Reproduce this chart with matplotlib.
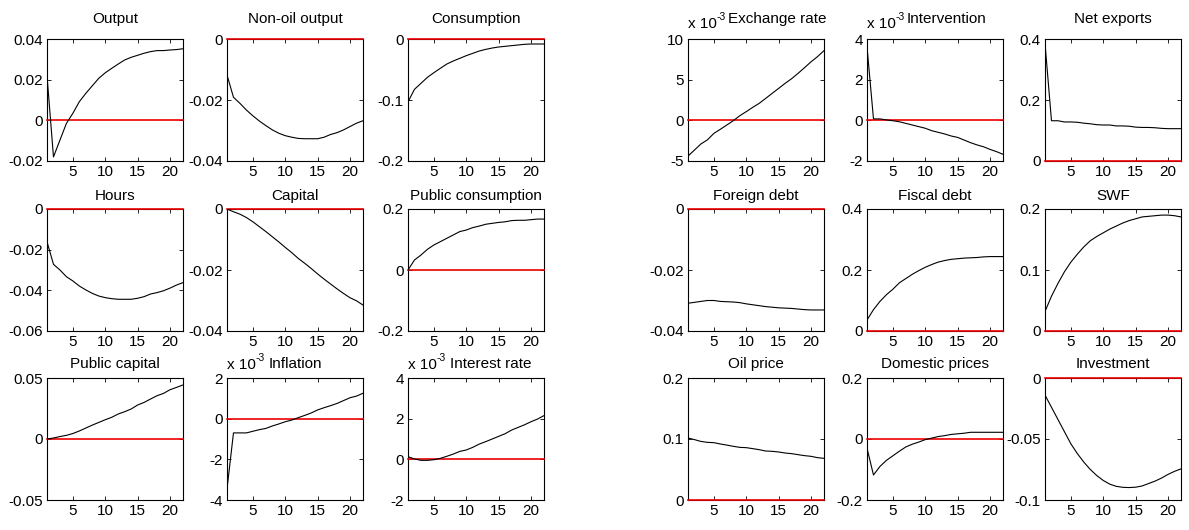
import matplotlib
matplotlib.use("Agg")
import matplotlib.pyplot as plt
from matplotlib.ticker import FuncFormatter
from matplotlib.transforms import offset_copy

plt.rcParams['font.family'] = ['Liberation Sans', 'DejaVu Sans']
plt.rcParams['axes.unicode_minus'] = False

# ---------------- data ----------------
periods = list(range(1, 23))
x_ticks = [5, 10, 15, 20]

titles = ["Output", "Non-oil output", "Consumption",
          "Hours", "Capital", "Public consumption",
          "Public capital", "Inflation", "Interest rate",
          "Exchange rate", "Intervention", "Net exports",
          "Foreign debt", "Fiscal debt", "SWF",
          "Oil price", "Domestic prices", "Investment"]

# series scaled by 1e-3 shown with "x 10^-3" label
scaled = ["Inflation", "Interest rate", "Exchange rate", "Intervention"]

output = [0.022, -0.018, -0.0097, -0.0015, 0.0035, 0.0092, 0.0133, 0.017, 0.0207, 0.0234, 0.0256,
          0.0277, 0.0297, 0.031, 0.032, 0.033, 0.0338, 0.0343, 0.0343, 0.0346, 0.0348, 0.0352]
nonoil_output = [-0.0118, -0.0191, -0.0211, -0.0233, -0.0252, -0.0269, -0.0284, -0.0298, -0.0309, -0.0317, -0.0322,
                 -0.0326, -0.0327, -0.0327, -0.0327, -0.0322, -0.0313, -0.0307, -0.0298, -0.0287, -0.0276, -0.0268]
consumption = [-0.103, -0.0825, -0.0727, -0.0628, -0.0552, -0.048, -0.041, -0.036, -0.0317, -0.0273, -0.0235,
               -0.0197, -0.017, -0.0148, -0.0131, -0.012, -0.0109, -0.0098, -0.0087, -0.0082, -0.0082, -0.0082]
hours = [-0.0161, -0.0272, -0.030, -0.0333, -0.0354, -0.0379, -0.0398, -0.0415, -0.0428, -0.0436, -0.0441,
         -0.0444, -0.0444, -0.0444, -0.0439, -0.0431, -0.0418, -0.0411, -0.0402, -0.0389, -0.0374, -0.0362]
capital = [0.0, -0.0009, -0.0017, -0.0028, -0.0042, -0.0058, -0.0074, -0.0091, -0.0108, -0.0126, -0.0143,
           -0.0162, -0.0178, -0.0195, -0.0213, -0.023, -0.0246, -0.0262, -0.0277, -0.0291, -0.0301, -0.0315]
public_consumption = [0.0, 0.0328, 0.049, 0.0678, 0.082, 0.093, 0.104, 0.115, 0.126, 0.131, 0.139,
                      0.144, 0.150, 0.153, 0.156, 0.158, 0.162, 0.163, 0.163, 0.165, 0.167, 0.167]
public_capital = [0.0, 0.0008, 0.002, 0.003, 0.0045, 0.0066, 0.009, 0.0114, 0.0136, 0.0158, 0.0178,
                  0.0205, 0.0224, 0.0246, 0.0279, 0.030, 0.0328, 0.0355, 0.0374, 0.0404, 0.0423, 0.0443]
inflation = [-3.46, -0.70, -0.70, -0.70, -0.62, -0.54, -0.48, -0.36, -0.26, -0.15, -0.07,
             0.05, 0.16, 0.28, 0.43, 0.54, 0.64, 0.75, 0.89, 1.03, 1.11, 1.25]
interest_rate = [0.13, 0.02, -0.05, -0.05, -0.02, 0.05, 0.15, 0.26, 0.39, 0.46, 0.59,
                 0.75, 0.87, 1.0, 1.13, 1.26, 1.44, 1.57, 1.7, 1.85, 1.98, 2.15]
exchange_rate = [-4.4, -3.65, -2.9, -2.4, -1.6, -1.1, -0.57, -0.04, 0.57, 1.07, 1.6,
                 2.09, 2.7, 3.32, 3.93, 4.55, 5.12, 5.78, 6.48, 7.2, 7.83, 8.57]
intervention = [3.62, 0.07, 0.07, 0.02, -0.02, -0.07, -0.15, -0.23, -0.31, -0.39, -0.51,
                -0.59, -0.67, -0.77, -0.84, -0.97, -1.1, -1.21, -1.3, -1.43, -1.54, -1.67]
net_exports = [0.386, 0.132, 0.132, 0.128, 0.128, 0.127, 0.124, 0.122, 0.119, 0.118, 0.118,
               0.115, 0.115, 0.114, 0.111, 0.110, 0.110, 0.109, 0.107, 0.106, 0.106, 0.106]
foreign_debt = [-0.0309, -0.0306, -0.0303, -0.0300, -0.0300, -0.0303, -0.0304, -0.0305, -0.0307, -0.0311, -0.0314,
                -0.0317, -0.032, -0.0322, -0.0324, -0.0325, -0.0326, -0.0328, -0.033, -0.0331, -0.0331, -0.0331]
fiscal_debt = [0.036, 0.07, 0.097, 0.119, 0.137, 0.158, 0.172, 0.186, 0.198, 0.209, 0.218,
               0.226, 0.231, 0.235, 0.237, 0.239, 0.240, 0.241, 0.243, 0.244, 0.244, 0.244]
swf = [0.032, 0.057, 0.078, 0.097, 0.113, 0.126, 0.138, 0.148, 0.155, 0.161, 0.167,
       0.172, 0.177, 0.181, 0.184, 0.187, 0.188, 0.189, 0.190, 0.190, 0.189, 0.187]
oil_price = [0.1016, 0.099, 0.096, 0.0945, 0.094, 0.0918, 0.090, 0.088, 0.0863, 0.0858, 0.0842,
             0.0825, 0.0803, 0.0798, 0.0787, 0.077, 0.0760, 0.0743, 0.0727, 0.0716, 0.0694, 0.0683]
domestic_prices = [-0.03, -0.118, -0.090, -0.07, -0.055, -0.040, -0.026, -0.017, -0.010, -0.002, 0.003,
                   0.008, 0.011, 0.015, 0.017, 0.019, 0.022, 0.022, 0.022, 0.022, 0.022, 0.022]
investment = [-0.014, -0.024, -0.034, -0.044, -0.054, -0.062, -0.069, -0.075, -0.080, -0.084, -0.087,
              -0.0888, -0.0896, -0.0898, -0.0895, -0.0885, -0.0865, -0.0845, -0.082, -0.079, -0.0765, -0.0745]

series = [output, nonoil_output, consumption, hours, capital, public_consumption,
          public_capital, inflation, interest_rate, exchange_rate, intervention, net_exports,
          foreign_debt, fiscal_debt, swf, oil_price, domestic_prices, investment]

y_ticks = [[-0.02, 0, 0.02, 0.04], [-0.04, -0.02, 0], [-0.2, -0.1, 0],
           [-0.06, -0.04, -0.02, 0], [-0.04, -0.02, 0], [-0.2, 0, 0.2],
           [-0.05, 0, 0.05], [-4, -2, 0, 2], [-2, 0, 2, 4],
           [-5, 0, 5, 10], [-2, 0, 2, 4], [0, 0.2, 0.4],
           [-0.04, -0.02, 0], [0, 0.2, 0.4], [0, 0.1, 0.2],
           [0, 0.1, 0.2], [-0.2, 0, 0.2], [-0.1, -0.05, 0]]

# ---------------- layout (pixels) ----------------
W, H = 1189, 530
col_left = [47, 227, 408, 688, 867, 1045]
row_top = [39, 209, 378]
ax_w, ax_h = 136, 122
title_pad = [16, 9, 10]
offset_pad = [11, 9, 9]
title_dx = {"Exchange rate": 21, "Intervention": 11, "Interest rate": 15}
fs = 11

fig = plt.figure(figsize=(W / 100, H / 100), dpi=100)

fmt = FuncFormatter(lambda v, p: ('%g' % v))

for i, (name, vals, yt) in enumerate(zip(titles, series, y_ticks)):
    group = i // 9
    k = i % 9
    r, c = k // 3, k % 3
    left = col_left[group * 3 + c]
    top = row_top[r]
    ax = fig.add_axes([left / W, 1 - (top + ax_h) / H, ax_w / W, ax_h / H])
    ax.plot(periods, vals, color='black', lw=0.8, zorder=3)
    ax.axhline(0, color='#ee0000', lw=1.2, zorder=2.6, clip_on=False)
    ax.set_xlim(1, 22)
    ax.set_ylim(yt[0], yt[-1])
    ax.set_xticks(x_ticks)
    ax.set_yticks(yt)
    ax.yaxis.set_major_formatter(fmt)
    ax.tick_params(direction='in', length=3, width=0.6, top=True, right=True,
                   labelsize=fs, pad=3, colors='black')
    for sp in ax.spines.values():
        sp.set_linewidth(0.8)
        sp.set_color('black')
        sp.set_zorder(2.5)
    dx = title_dx.get(name, 0)
    ax.text(0.5 + dx / ax_w, 1 + title_pad[r] / ax_h, name, transform=ax.transAxes,
            ha='center', va='baseline', fontsize=fs)
    if name in scaled:
        yb = 1 + offset_pad[r] / ax_h
        ax.text(0, yb, 'x 10', transform=ax.transAxes,
                ha='left', va='baseline', fontsize=fs)
        tr = offset_copy(ax.transAxes, fig=fig, x=29 * 0.72, y=8 * 0.72, units='points')
        ax.text(0, yb, '-3', transform=tr, ha='left', va='baseline', fontsize=7.5)

fig.savefig('out.png', dpi=100)
